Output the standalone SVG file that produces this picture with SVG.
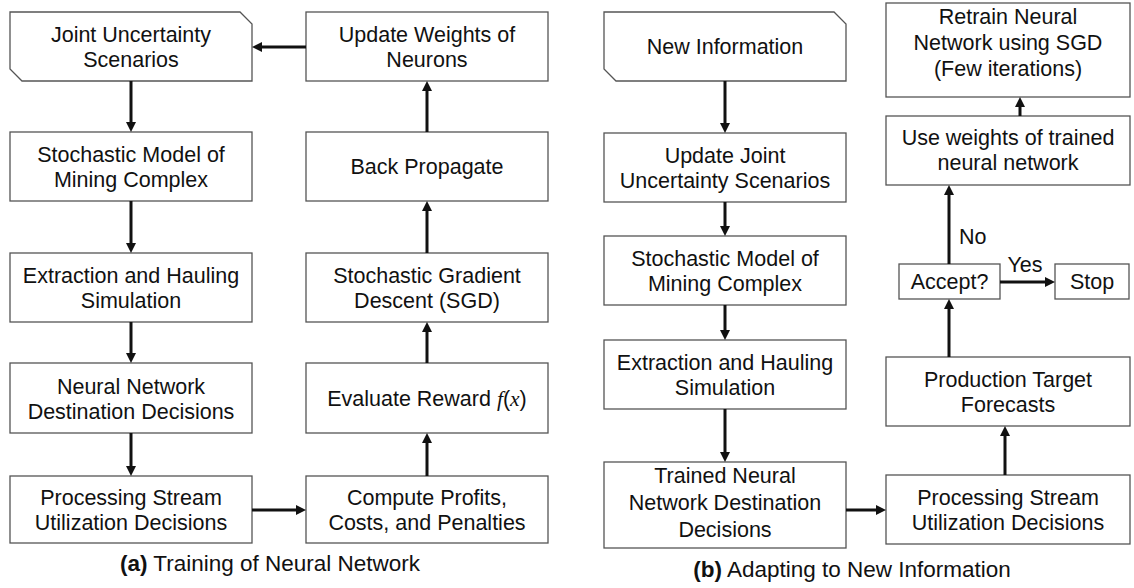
<svg xmlns="http://www.w3.org/2000/svg" width="1134" height="588" viewBox="0 0 1134 588">
  <style>
    .box { fill: #ffffff; stroke: #555555; stroke-width: 1.3; }
    .t { font-family: "Liberation Sans", Arial, sans-serif; font-size: 21.5px; fill: #111111; text-anchor: middle; }
    .lbl { font-family: "Liberation Sans", Arial, sans-serif; font-size: 21.5px; fill: #111111; }
    .cap { font-family: "Liberation Sans", Arial, sans-serif; font-size: 22.5px; fill: #111111; text-anchor: middle; }
    .math { font-family: "Liberation Serif", "Times New Roman", serif; font-style: italic; }
    .conn line { stroke: #111111; stroke-width: 3; }
  </style>
  <defs>
    <marker id="ah" viewBox="0 0 10 10" refX="4" refY="5" markerWidth="10" markerHeight="10" markerUnits="userSpaceOnUse" orient="auto">
      <path d="M0,0 L10,5 L0,10 z" fill="#111111"/>
    </marker>
  </defs>

  <rect width="1134" height="588" fill="#ffffff"/>

  <!-- (a) Training of neural network: left column -->
  <g id="a-joint">
    <polygon class="box" points="10,12 240,12 252,24 252,81 22,81 10,69"/>
    <text class="t" x="131" y="42">Joint Uncertainty</text>
    <text class="t" x="131" y="67">Scenarios</text>
  </g>
  <g id="a-stochastic">
    <rect class="box" x="10" y="132" width="242" height="69"/>
    <text class="t" x="131" y="162">Stochastic Model of</text>
    <text class="t" x="131" y="187">Mining Complex</text>
  </g>
  <g id="a-extraction">
    <rect class="box" x="10" y="253" width="242" height="69"/>
    <text class="t" x="131" y="283">Extraction and Hauling</text>
    <text class="t" x="131" y="308">Simulation</text>
  </g>
  <g id="a-destination">
    <rect class="box" x="10" y="363" width="242" height="70"/>
    <text class="t" x="131" y="393.5">Neural Network</text>
    <text class="t" x="131" y="418.5">Destination Decisions</text>
  </g>
  <g id="a-processing">
    <rect class="box" x="10" y="476" width="242" height="67"/>
    <text class="t" x="131" y="505">Processing Stream</text>
    <text class="t" x="131" y="530">Utilization Decisions</text>
  </g>

  <!-- (a) right column -->
  <g id="a-update">
    <rect class="box" x="306" y="12" width="242" height="69"/>
    <text class="t" x="427" y="42">Update Weights of</text>
    <text class="t" x="427" y="67">Neurons</text>
  </g>
  <g id="a-backprop">
    <rect class="box" x="306" y="132" width="242" height="69"/>
    <text class="t" x="427" y="174">Back Propagate</text>
  </g>
  <g id="a-sgd">
    <rect class="box" x="306" y="253" width="242" height="69"/>
    <text class="t" x="427" y="283">Stochastic Gradient</text>
    <text class="t" x="427" y="308">Descent (SGD)</text>
  </g>
  <g id="a-reward">
    <rect class="box" x="306" y="363" width="242" height="70"/>
    <text class="t" x="427" y="406">Evaluate Reward <tspan class="math">f</tspan>(<tspan class="math">x</tspan>)</text>
  </g>
  <g id="a-profits">
    <rect class="box" x="306" y="476" width="242" height="67"/>
    <text class="t" x="427" y="505">Compute Profits,</text>
    <text class="t" x="427" y="530">Costs, and Penalties</text>
  </g>

  <!-- (b) Adapting to new information: left column -->
  <g id="b-newinfo">
    <polygon class="box" points="604,12 834,12 846,24 846,81 616,81 604,69"/>
    <text class="t" x="725" y="54">New Information</text>
  </g>
  <g id="b-update-joint">
    <rect class="box" x="604" y="133" width="242" height="69"/>
    <text class="t" x="725" y="163">Update Joint</text>
    <text class="t" x="725" y="188">Uncertainty Scenarios</text>
  </g>
  <g id="b-stochastic">
    <rect class="box" x="604" y="236" width="242" height="69"/>
    <text class="t" x="725" y="266">Stochastic Model of</text>
    <text class="t" x="725" y="291">Mining Complex</text>
  </g>
  <g id="b-extraction">
    <rect class="box" x="604" y="340" width="242" height="69"/>
    <text class="t" x="725" y="370">Extraction and Hauling</text>
    <text class="t" x="725" y="395">Simulation</text>
  </g>
  <g id="b-trained">
    <rect class="box" x="604" y="462" width="242" height="86"/>
    <text class="t" x="725" y="483">Trained Neural</text>
    <text class="t" x="725" y="510">Network Destination</text>
    <text class="t" x="725" y="537">Decisions</text>
  </g>

  <!-- (b) right column -->
  <g id="b-retrain">
    <rect class="box" x="886" y="3" width="244" height="94"/>
    <text class="t" x="1008" y="24">Retrain Neural</text>
    <text class="t" x="1008" y="50">Network using SGD</text>
    <text class="t" x="1008" y="76">(Few iterations)</text>
  </g>
  <g id="b-weights">
    <rect class="box" x="886" y="116" width="244" height="69"/>
    <text class="t" x="1008" y="145">Use weights of trained</text>
    <text class="t" x="1008" y="170">neural network</text>
  </g>
  <g id="b-accept">
    <rect class="box" x="899" y="264" width="101" height="35"/>
    <text class="t" x="949.5" y="289">Accept?</text>
  </g>
  <g id="b-stop">
    <rect class="box" x="1055" y="264" width="74" height="35"/>
    <text class="t" x="1092" y="289">Stop</text>
  </g>
  <g id="b-forecasts">
    <rect class="box" x="886" y="357" width="244" height="69"/>
    <text class="t" x="1008" y="387">Production Target</text>
    <text class="t" x="1008" y="412">Forecasts</text>
  </g>
  <g id="b-processing">
    <rect class="box" x="886" y="475" width="244" height="69"/>
    <text class="t" x="1008" y="505">Processing Stream</text>
    <text class="t" x="1008" y="530">Utilization Decisions</text>
  </g>

  <!-- connectors -->
  <g id="connectors" class="conn">
    <!-- (a) down the left column -->
    <line x1="131" y1="81" x2="131" y2="126" marker-end="url(#ah)"/>
    <line x1="131" y1="201" x2="131" y2="247" marker-end="url(#ah)"/>
    <line x1="131" y1="322" x2="131" y2="357" marker-end="url(#ah)"/>
    <line x1="131" y1="433" x2="131" y2="470" marker-end="url(#ah)"/>
    <line x1="252" y1="510" x2="300" y2="510" marker-end="url(#ah)"/>
    <!-- (a) up the right column -->
    <line x1="427" y1="476" x2="427" y2="439" marker-end="url(#ah)"/>
    <line x1="427" y1="363" x2="427" y2="328" marker-end="url(#ah)"/>
    <line x1="427" y1="253" x2="427" y2="207" marker-end="url(#ah)"/>
    <line x1="427" y1="132" x2="427" y2="87" marker-end="url(#ah)"/>
    <line x1="306" y1="47" x2="258" y2="47" marker-end="url(#ah)"/>
    <!-- (b) left column -->
    <line x1="725" y1="81" x2="725" y2="127" marker-end="url(#ah)"/>
    <line x1="725" y1="202" x2="725" y2="230" marker-end="url(#ah)"/>
    <line x1="725" y1="305" x2="725" y2="334" marker-end="url(#ah)"/>
    <line x1="725" y1="409" x2="725" y2="456" marker-end="url(#ah)"/>
    <line x1="846" y1="510" x2="880" y2="510" marker-end="url(#ah)"/>
    <!-- (b) right column -->
    <line x1="1005" y1="475" x2="1005" y2="432" marker-end="url(#ah)"/>
    <line x1="949" y1="357" x2="949" y2="305" marker-end="url(#ah)"/>
    <line x1="949" y1="264" x2="949" y2="191" marker-end="url(#ah)"/>
    <line x1="1020" y1="116" x2="1020" y2="103" marker-end="url(#ah)"/>
    <line x1="1000" y1="282" x2="1049" y2="282" marker-end="url(#ah)"/>
  </g>
  <text class="lbl" x="959" y="244">No</text>
  <text class="t" x="1025" y="272">Yes</text>

  <!-- captions -->
  <text class="cap" x="270" y="571"><tspan font-weight="bold">(a)</tspan> Training of Neural Network</text>
  <text class="cap" x="852" y="577"><tspan font-weight="bold">(b)</tspan> Adapting to New Information</text>
</svg>
